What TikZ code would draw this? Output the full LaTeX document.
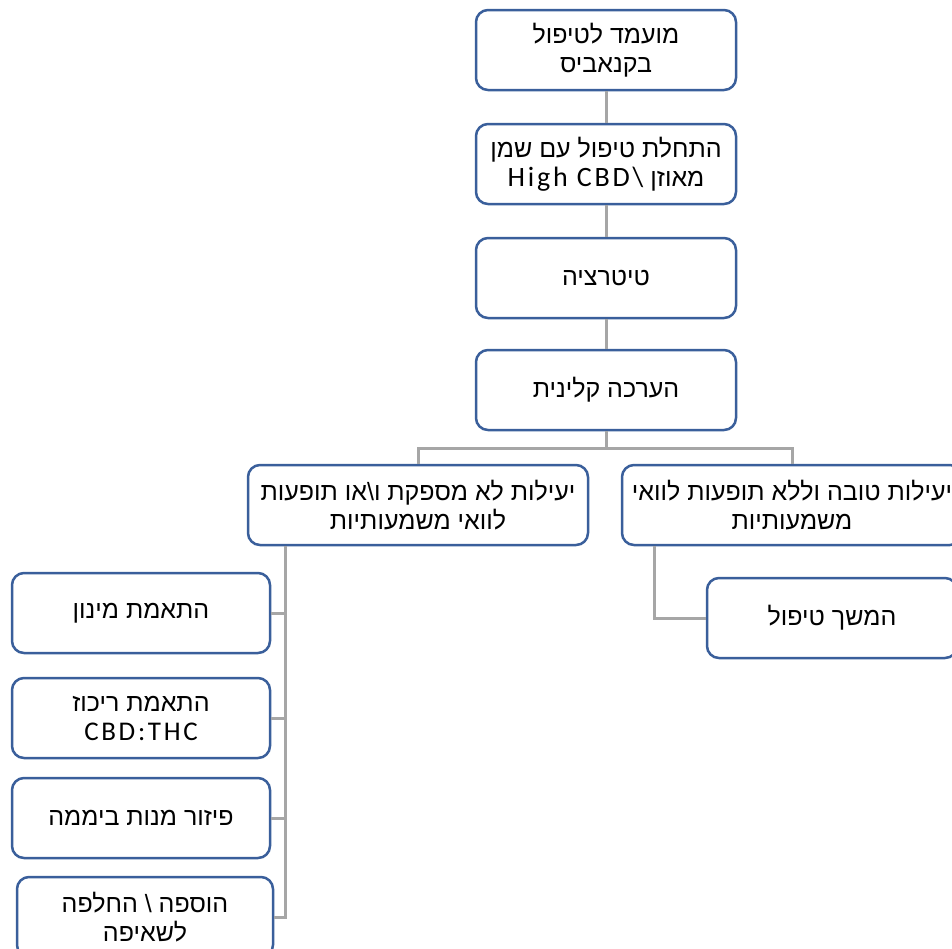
\documentclass[tikz,border=0pt]{standalone}
\usepackage{fontspec}
\setmainfont{Liberation Sans}
\newfontfamily\hebfont[Script=Hebrew]{Liberation Sans}
\newfontfamily\latfont[LetterSpace=10]{Carlito}
\TeXXeTstate=1
\newcommand{\hebline}[1]{\beginR#1\endR}
\definecolor{boxblue}{HTML}{3A5F9B}
\definecolor{linkgray}{HTML}{A6A6A6}

\begin{document}
\begin{tikzpicture}[x=1pt, y=-1pt,
    box/.style={draw=boxblue, line width=2.5pt, rounded corners=12pt, fill=white,
        minimum height=80pt, align=center, inner sep=2pt,
        font=\hebfont\fontsize{25}{29}\selectfont},
    link/.style={draw=linkgray, line width=3pt}]
    \useasboundingbox (0,0) rectangle (952,948);
    \clip (0,0) rectangle (952,948);

    % Main column
    \node[box, minimum width=260pt] (cand) at (606,50)
        {\hebline{מועמד לטיפול}\\ \hebline{בקנאביס}};
    \node[box, minimum width=260pt] (start) at (606,164)
        {\hebline{התחלת טיפול עם שמן}\\
         \hebline{מאוזן \beginL{\latfont\fontsize{28}{29}\selectfont High CBD\textbackslash}\endL}};
    \node[box, minimum width=260pt] (titr) at (606,278) {\hebline{טיטרציה}};
    \node[box, minimum width=260pt] (eval) at (606,390) {\hebline{הערכה קלינית}};

    % Two outcomes
    \node[box, minimum width=340pt] (poor) at (418,505)
        {\hebline{יעילות לא מספקת ו\textbackslash או תופעות}\\ \hebline{לוואי משמעותיות}};
    \node[box, minimum width=340pt] (good) at (792,505)
        {\hebline{יעילות טובה וללא תופעות לוואי}\\ \hebline{משמעותיות}};
    \node[box, minimum width=250pt] (cont) at (832,618) {\hebline{המשך טיפול}};

    % Adjustments
    \node[box, minimum width=258pt] (adj1) at (141,613) {\hebline{התאמת מינון}};
    \node[box, minimum width=258pt] (adj2) at (141,718)
        {\hebline{התאמת ריכוז}\\ {\latfont\fontsize{27}{29}\selectfont CBD:THC}};
    \node[box, minimum width=258pt] (adj3) at (141,818) {\hebline{פיזור מנות ביממה}};
    \node[box, minimum width=256pt] (adj4) at (145,917)
        {\hebline{הוספה \textbackslash{} החלפה}\\ \hebline{לשאיפה}};

    % Connectors
    \draw[link] (cand) -- (start);
    \draw[link] (start) -- (titr);
    \draw[link] (titr) -- (eval);
    \draw[link] (eval.south) -- ++(0,17) -| (poor.north);
    \draw[link] (eval.south) -- ++(0,17) -| (good.north);
    \draw[link] ([xshift=34pt]good.south west) |- (cont.west);
    \coordinate (trunk) at ([xshift=39pt]poor.south west);
    \foreach \k in {1,...,4}
        \draw[link] (trunk) |- (adj\k.east);
\end{tikzpicture}
\end{document}
